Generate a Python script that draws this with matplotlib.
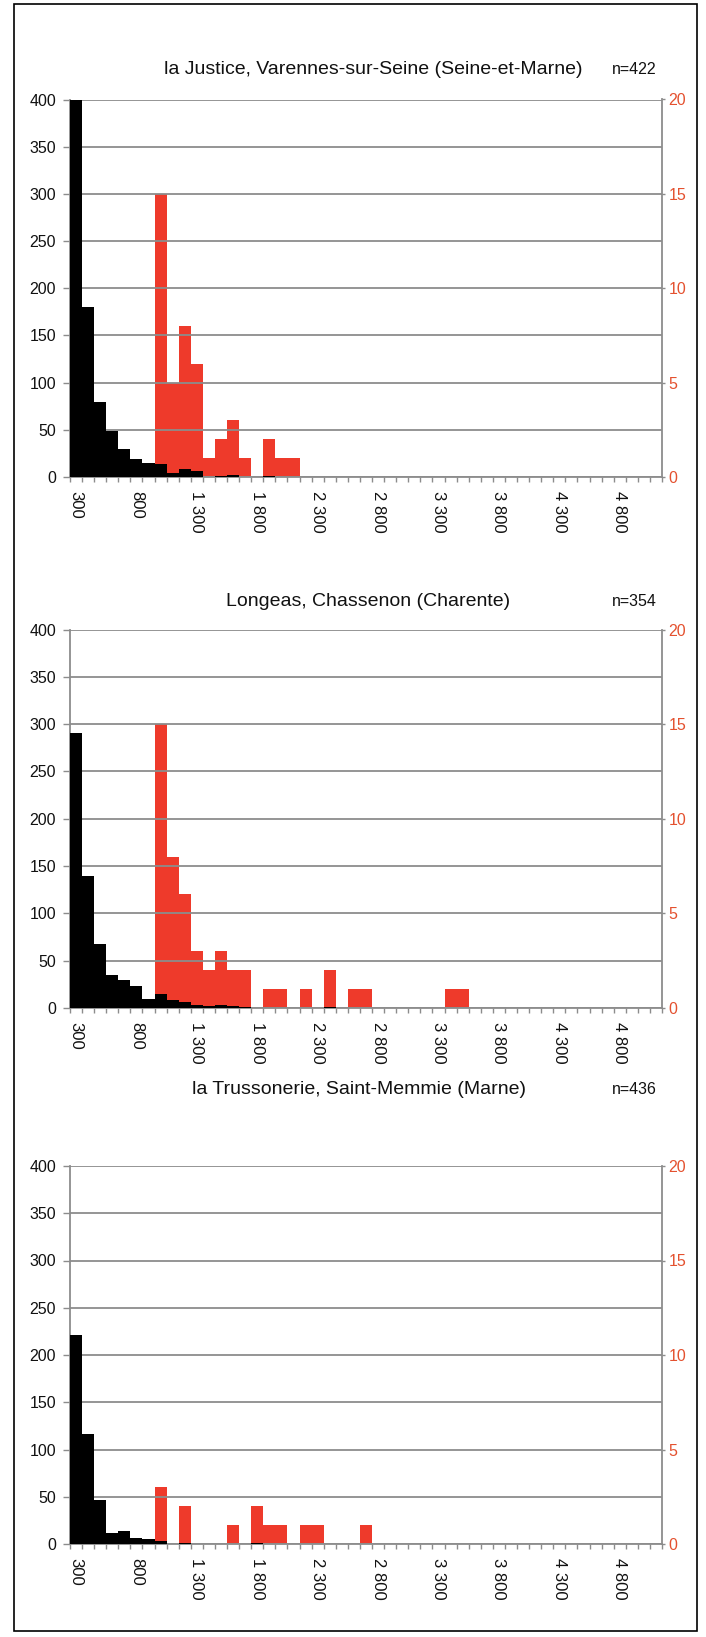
import matplotlib
matplotlib.use("Agg")
import matplotlib.pyplot as plt
from matplotlib.patches import Rectangle
from matplotlib.ticker import FixedLocator

plt.rcParams['font.family'] = ['Liberation Sans', 'DejaVu Sans']

# ---------------- data ----------------
categories = [300, 400, 500, 600, 700, 800, 900, 1000, 1100, 1200, 1300, 1400, 1500,
              1600, 1700, 1800, 1900, 2000, 2100, 2200, 2300, 2400, 2500, 2600, 2700,
              2800, 2900, 3000, 3100, 3200, 3300, 3400, 3500, 3600, 3700, 3800, 3900,
              4000, 4100, 4200, 4300, 4400, 4500, 4600, 4700, 4800, 4900, 5000, 5100]

titles = ["la Justice, Varennes-sur-Seine (Seine-et-Marne)",
          "Longeas, Chassenon (Charente)",
          "la Trussonerie, Saint-Memmie (Marne)"]
n_labels = ["n=422", "n=354", "n=436"]

# black series (left axis), non-zero values by category
black_1 = {300: 400, 400: 180, 500: 80, 600: 49, 700: 30, 800: 19, 900: 15, 1000: 14,
           1100: 4, 1200: 8, 1300: 6, 1500: 1, 1600: 2, 1900: 1}
black_2 = {300: 291, 400: 139, 500: 68, 600: 35, 700: 30, 800: 23, 900: 9, 1000: 15,
           1100: 8, 1200: 6, 1300: 3, 1400: 2, 1500: 3, 1600: 2, 1700: 1, 2400: 1}
black_3 = {300: 221, 400: 116, 500: 47, 600: 12, 700: 14, 800: 6, 900: 5, 1000: 3,
           1200: 1, 1800: 1}

# red series (right axis)
red_1 = {1000: 15, 1100: 5, 1200: 8, 1300: 6, 1400: 1, 1500: 2, 1600: 3, 1700: 1,
         1900: 2, 2000: 1, 2100: 1}
red_2 = {1000: 15, 1100: 8, 1200: 6, 1300: 3, 1400: 2, 1500: 3, 1600: 2, 1700: 2,
         1900: 1, 2000: 1, 2200: 1, 2400: 2, 2600: 1, 2700: 1, 3400: 1, 3500: 1}
red_3 = {1000: 3, 1200: 2, 1600: 1, 1800: 2, 1900: 1, 2000: 1, 2200: 1, 2300: 1, 2700: 1}

left_ticks = [0, 50, 100, 150, 200, 250, 300, 350, 400]
right_ticks = [0, 5, 10, 15, 20]
label_every = 5

# ---------------- style ----------------
W, H = 706, 1637
RED = "#ee3a2b"
RED_TXT = "#e4512f"
GRID = "#8c8c8c"
TXT = "#111111"
YTICK_FS = 11.5
XTICK_FS = 12
TITLE_FS = 14
N_FS = 11.5

fig = plt.figure(figsize=(W / 100, H / 100), dpi=100)

def fx(px):
    return px / W

def fy(py):
    return 1 - py / H

# axes pixel boxes: (left, right, top, bottom)
boxes = [(70, 662, 99.5, 477), (70, 662, 629.5, 1008), (70, 662, 1166, 1544)]
title_pos = [(373, 69), (368, 601), (359, 1090)]
n_pos = [(657, 69), (657, 601), (657, 1090)]

panels = [(black_1, red_1), (black_2, red_2), (black_3, red_3)]

def fmt(v):
    return f"{v:,}".replace(",", " ")

for k, ((bl, rd), box) in enumerate(zip(panels, boxes)):
    l, r, t, b = box
    ax = fig.add_axes([fx(l), fy(b), fx(r) - fx(l), fy(t) - fy(b)])
    ax2 = ax.twinx()
    # black axes in front, red axes behind
    ax.set_zorder(ax2.get_zorder() + 1)
    ax.patch.set_visible(False)

    xs = list(range(len(categories)))
    bvals = [bl.get(c, 0) for c in categories]
    rvals = [rd.get(c, 0) for c in categories]

    ax2.bar(xs, rvals, width=1.0, color=RED, linewidth=0, zorder=1)
    ax.bar(xs, bvals, width=1.0, color="black", linewidth=0, zorder=3)

    ax.set_xlim(-0.5, len(categories) - 0.5)
    ax.set_ylim(0, 400)
    ax2.set_ylim(0, 20)

    # grid
    ax.set_yticks(left_ticks)
    ax.yaxis.grid(True, color=GRID, linewidth=1.3, zorder=2)
    ax.set_axisbelow(False)
    for gl in ax.get_ygridlines():
        gl.set_zorder(2)
    ax.set_yticklabels([str(v) for v in left_ticks], fontsize=YTICK_FS, color=TXT)
    ax.tick_params(axis='y', length=5, width=1, color=GRID, pad=5)

    ax2.set_yticks(right_ticks)
    ax2.set_yticklabels([str(v) for v in right_ticks], fontsize=YTICK_FS, color=RED_TXT)
    ax2.tick_params(axis='y', length=2.5, width=1, color=GRID, pad=2)

    # x ticks
    major_idx = xs[::label_every]
    ax.set_xticks(major_idx)
    ax.set_xticklabels([fmt(categories[i]) for i in major_idx], rotation=-90,
                       fontsize=XTICK_FS, color=TXT, va="top", ha="center")
    ax.tick_params(axis='x', which='major', length=0, pad=10)
    ax.xaxis.set_minor_locator(FixedLocator([i - 0.5 for i in range(len(categories) + 1)]))
    ax.tick_params(axis='x', which='minor', length=3.5, width=1, color=GRID, direction='out')

    for a in (ax, ax2):
        a.spines['top'].set_visible(False)
        for s in ('left', 'right', 'bottom'):
            a.spines[s].set_color(GRID)
            a.spines[s].set_linewidth(1.3)
    ax2.spines['left'].set_visible(False)
    ax2.spines['bottom'].set_visible(False)
    ax.spines['right'].set_visible(False)
    ax2.set_xlim(ax.get_xlim())

    tx, ty = title_pos[k]
    fig.text(fx(tx), fy(ty), titles[k], ha="center", va="center", fontsize=TITLE_FS,
             color=TXT)
    nx, ny = n_pos[k]
    fig.text(fx(nx), fy(ny), n_labels[k], ha="right", va="center", fontsize=N_FS,
             color=TXT)

# outer frame
fig.add_artist(Rectangle((fx(14), fy(1631)), fx(697) - fx(14), fy(4) - fy(1631),
                         transform=fig.transFigure, fill=False, edgecolor="black",
                         linewidth=1.2))

fig.savefig("out.png", dpi=100)
